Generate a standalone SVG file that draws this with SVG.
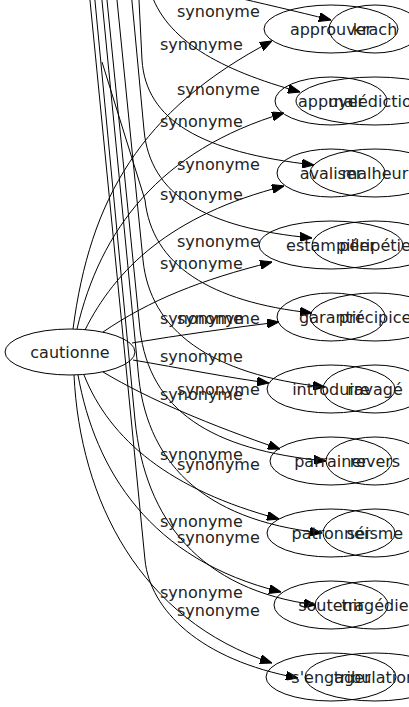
<svg xmlns="http://www.w3.org/2000/svg" width="409" height="707" viewBox="0 0 409 707">
<style>
.n{fill:none;stroke:#000;stroke-width:1}
.t{font-family:"DejaVu Sans",sans-serif;font-size:16px;fill:#222;text-anchor:middle}
.l{font-family:"DejaVu Sans",sans-serif;font-size:16px;fill:#222;text-anchor:start}
.e{fill:none;stroke:#000;stroke-width:1;marker-end:url(#a)}
</style>
<defs>
<marker id="a" markerWidth="12" markerHeight="9" refX="12" refY="4.5" orient="auto" markerUnits="userSpaceOnUse">
<path d="M0,0 L12,4.5 L0,9 z" fill="#000" stroke="#000"/>
</marker>
</defs>
<rect width="409" height="707" fill="#fff"/>
<g id="edges">
<path class="e" d="M73,329 C90,200 140,110 272,41"/>
<path class="e" d="M77,329 C100,230 160,150 284,113"/>
<path class="e" d="M85,330 C115,270 170,215 284,186"/>
<path class="e" d="M103,332 C150,300 200,280 272,262"/>
<path class="e" d="M132,343 C180,335 230,328 279,322"/>
<path class="e" d="M133,360 C180,368 230,378 269,383"/>
<path class="e" d="M103,372 C150,400 210,425 280,449"/>
<path class="e" d="M84,375 C110,440 170,490 279,519"/>
<path class="e" d="M78,375 C95,470 150,560 281,592"/>
<path class="e" d="M74,375 C80,500 140,620 272,663"/>
<path class="e" d="M230,-4 C260,3 295,11 331,20"/>
<path class="e" d="M150,-10 C165,40 220,70 300,92"/>
<path class="e" d="M138,-20 L142,60 C146,120 200,152 314,165"/>
<path class="e" d="M130,-20 L144,130 C150,195 205,228 312,238"/>
<path class="e" d="M102,62 L145,200 C152,265 210,302 312,313"/>
<path class="e" d="M115,-20 L143,260 C150,330 210,375 325,387"/>
<path class="e" d="M105,-20 L140,330 C150,410 210,450 326,461"/>
<path class="e" d="M100,-20 L138,370 C145,460 200,520 322,533"/>
<path class="e" d="M93,-20 L135,420 C145,520 200,590 316,605"/>
<path class="e" d="M88,-20 L145,560 C150,610 200,660 298,678"/>
</g>
<g id="labels">
<text class="l" x="177" y="17">synonyme</text>
<text class="l" x="177" y="95">synonyme</text>
<text class="l" x="177" y="170">synonyme</text>
<text class="l" x="177" y="247">synonyme</text>
<text class="l" x="177" y="324">synonyme</text>
<text class="l" x="177" y="395">synonyme</text>
<text class="l" x="177" y="470">synonyme</text>
<text class="l" x="177" y="543">synonyme</text>
<text class="l" x="177" y="616">synonyme</text>
<text class="l" x="160" y="50">synonyme</text>
<text class="l" x="160" y="127">synonyme</text>
<text class="l" x="160" y="200">synonyme</text>
<text class="l" x="160" y="269">synonyme</text>
<text class="l" x="160" y="324">synonyme</text>
<text class="l" x="160" y="362">synonyme</text>
<text class="l" x="160" y="400">synonyme</text>
<text class="l" x="160" y="460">synonyme</text>
<text class="l" x="160" y="527">synonyme</text>
<text class="l" x="160" y="598">synonyme</text>
</g>
<g id="cautionne"><ellipse class="n" cx="70" cy="352" rx="65" ry="23"/><text class="t" x="70" y="358">cautionne</text></g>
<g id="approuver"><ellipse class="n" cx="331" cy="29" rx="67" ry="24"/><text class="t" x="331" y="35">approuver</text></g>
<g id="appuyer"><ellipse class="n" cx="331" cy="101" rx="56" ry="24"/><text class="t" x="331" y="107">appuyer</text></g>
<g id="avaliser"><ellipse class="n" cx="331" cy="173" rx="54" ry="24"/><text class="t" x="331" y="179">avaliser</text></g>
<g id="estampiller"><ellipse class="n" cx="331" cy="245" rx="72" ry="24"/><text class="t" x="331" y="251">estampiller</text></g>
<g id="garantir"><ellipse class="n" cx="331" cy="317" rx="54" ry="24"/><text class="t" x="331" y="323">garantir</text></g>
<g id="introduire"><ellipse class="n" cx="331" cy="389" rx="64" ry="24"/><text class="t" x="331" y="395">introduire</text></g>
<g id="parrainer"><ellipse class="n" cx="331" cy="461" rx="61" ry="24"/><text class="t" x="331" y="467">parrainer</text></g>
<g id="patronner"><ellipse class="n" cx="331" cy="533" rx="64" ry="24"/><text class="t" x="331" y="539">patronner</text></g>
<g id="soutenir"><ellipse class="n" cx="331" cy="605" rx="57" ry="24"/><text class="t" x="331" y="611">soutenir</text></g>
<g id="sengager"><ellipse class="n" cx="331" cy="677" rx="65" ry="24"/><text class="t" x="331" y="683">s'engager</text></g>
<g id="krach"><ellipse class="n" cx="375" cy="29" rx="46" ry="24"/><text class="t" x="375" y="35">krach</text></g>
<g id="malediction"><ellipse class="n" cx="375" cy="101" rx="79" ry="24"/><text class="t" x="375" y="107">malédiction</text></g>
<g id="malheur"><ellipse class="n" cx="375" cy="173" rx="65" ry="24"/><text class="t" x="375" y="179">malheur</text></g>
<g id="peripetie"><ellipse class="n" cx="375" cy="245" rx="63" ry="24"/><text class="t" x="375" y="251">péripétie</text></g>
<g id="precipice"><ellipse class="n" cx="375" cy="317" rx="65" ry="24"/><text class="t" x="375" y="323">précipice</text></g>
<g id="ravage"><ellipse class="n" cx="375" cy="389" rx="52" ry="24"/><text class="t" x="375" y="395">ravagé</text></g>
<g id="revers"><ellipse class="n" cx="375" cy="461" rx="49" ry="24"/><text class="t" x="375" y="467">revers</text></g>
<g id="seisme"><ellipse class="n" cx="375" cy="533" rx="52" ry="24"/><text class="t" x="375" y="539">séisme</text></g>
<g id="tragedie"><ellipse class="n" cx="375" cy="605" rx="60" ry="24"/><text class="t" x="375" y="611">tragédie</text></g>
<g id="tribulation"><ellipse class="n" cx="375" cy="677" rx="70" ry="24"/><text class="t" x="375" y="683">tribulation</text></g>
</svg>
